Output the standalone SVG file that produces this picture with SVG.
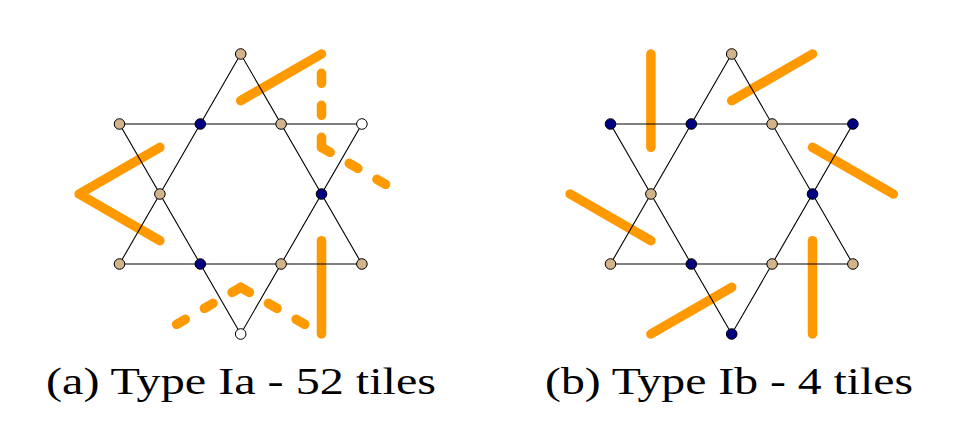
<svg xmlns="http://www.w3.org/2000/svg" width="953" height="423" viewBox="0 0 953 423">
<style>
.o{fill:none;stroke:#FF9900;stroke-width:9.5;stroke-linecap:round;stroke-linejoin:round}
.d{stroke-dasharray:10 22}
.e{fill:none;stroke:#000;stroke-width:1.1}
.t{fill:#D2B48C;stroke:#000;stroke-width:1}
.n{fill:#000080;stroke:#000;stroke-width:1}
.w{fill:#fff;stroke:#000;stroke-width:1}
.cap{font-family:'Liberation Serif',serif;font-size:37px;fill:#000}
</style>
<rect width="953" height="423" fill="#fff"/>
<g id="connectors">
  <path class="o" d="M240.7,100.7 L321.5,54"/>
  <path class="o d" d="M321.5,147.3 L321.5,54"/>
  <path class="o d" d="M321.5,147.3 L402.3,194"/>
  <path class="o" d="M159.9,147.3 L79.1,194 L159.9,240.7"/>
  <path class="o d" d="M240.7,287.3 L159.9,334"/>
  <path class="o d" d="M240.7,287.3 L321.5,334"/>
  <path class="o" d="M321.5,240.7 L321.5,334"/>
  <path class="o" d="M650.9,54 L650.9,147.3"/>
  <path class="o" d="M731.7,100.7 L812.5,54"/>
  <path class="o" d="M812.5,147.3 L893.3,194"/>
  <path class="o" d="M650.9,240.7 L570.1,194"/>
  <path class="o" d="M731.7,287.3 L650.9,334"/>
  <path class="o" d="M812.5,240.7 L812.5,334"/>
  <path class="e" d="M240.7,54 L119.5,264 L361.9,264 Z M240.7,334 L119.5,124 L361.9,124 Z"/>
  <path class="e" d="M731.7,54 L610.5,264 L852.9,264 Z M731.7,334 L610.5,124 L852.9,124 Z"/>
</g>
<g id="a-top"><circle class="t" cx="240.7" cy="54" r="5.3"/></g>
<g id="a-u1"><circle class="t" cx="119.5" cy="124" r="5.3"/></g>
<g id="a-u2"><circle class="n" cx="200.3" cy="124" r="5.3"/></g>
<g id="a-u3"><circle class="t" cx="281.1" cy="124" r="5.3"/></g>
<g id="a-u4"><circle class="w" cx="361.9" cy="124" r="5.3"/></g>
<g id="a-m1"><circle class="t" cx="159.9" cy="194" r="5.3"/></g>
<g id="a-m2"><circle class="n" cx="321.5" cy="194" r="5.3"/></g>
<g id="a-l1"><circle class="t" cx="119.5" cy="264" r="5.3"/></g>
<g id="a-l2"><circle class="n" cx="200.3" cy="264" r="5.3"/></g>
<g id="a-l3"><circle class="t" cx="281.1" cy="264" r="5.3"/></g>
<g id="a-l4"><circle class="t" cx="361.9" cy="264" r="5.3"/></g>
<g id="a-bot"><circle class="w" cx="240.7" cy="334" r="5.3"/></g>
<g id="b-top"><circle class="t" cx="731.7" cy="54" r="5.3"/></g>
<g id="b-u1"><circle class="n" cx="610.5" cy="124" r="5.3"/></g>
<g id="b-u2"><circle class="n" cx="691.3" cy="124" r="5.3"/></g>
<g id="b-u3"><circle class="t" cx="772.1" cy="124" r="5.3"/></g>
<g id="b-u4"><circle class="n" cx="852.9" cy="124" r="5.3"/></g>
<g id="b-m1"><circle class="t" cx="650.9" cy="194" r="5.3"/></g>
<g id="b-m2"><circle class="n" cx="812.5" cy="194" r="5.3"/></g>
<g id="b-l1"><circle class="t" cx="610.5" cy="264" r="5.3"/></g>
<g id="b-l2"><circle class="n" cx="691.3" cy="264" r="5.3"/></g>
<g id="b-l3"><circle class="t" cx="772.1" cy="264" r="5.3"/></g>
<g id="b-l4"><circle class="t" cx="852.9" cy="264" r="5.3"/></g>
<g id="b-bot"><circle class="n" cx="731.7" cy="334" r="5.3"/></g>
<g id="caption-a"><text class="cap" x="46" y="394" textLength="390" lengthAdjust="spacingAndGlyphs">(a) Type Ia - 52 tiles</text></g>
<g id="caption-b"><text class="cap" x="545" y="394" textLength="368" lengthAdjust="spacingAndGlyphs">(b) Type Ib - 4 tiles</text></g>
</svg>
